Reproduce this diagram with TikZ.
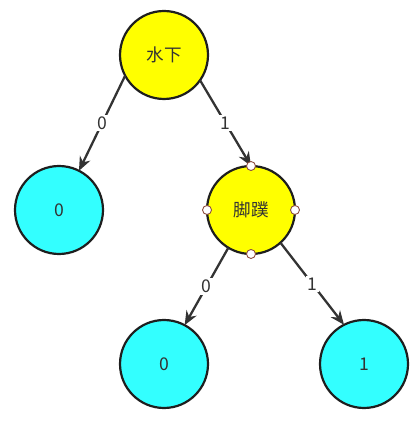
\documentclass[tikz,border=0pt]{standalone}
\usepackage{fontspec}
\setmainfont{Noto Sans CJK SC}
\usetikzlibrary{arrows.meta}
\definecolor{Ink}{HTML}{333333}
\definecolor{Rim}{HTML}{1E1E1E}
\definecolor{Lemon}{HTML}{FFFF00}
\definecolor{Aqua}{HTML}{33FFFF}
\definecolor{Pin}{HTML}{8C4B3C}
\tikzset{
  word/.style={
    circle, draw=Rim, line width=1.25pt, fill=Lemon, text=Ink,
    minimum size=1.76cm, inner sep=0pt, outer sep=0pt,
    font=\fontsize{10pt}{12pt}\selectfont
  },
  leaf/.style={word, fill=Aqua},
  branch/.style={-{Stealth[length=2.8mm,width=2.3mm]}, line width=1.3pt, draw=Ink},
  bit/.style={fill=white, text=Ink, inner sep=1pt,
    font=\fontsize{10pt}{12pt}\selectfont},
  handle/.style={circle, draw=Pin, fill=white, line width=0.5pt,
    minimum size=0.18cm, inner sep=0pt}
}

\begin{document}
\begin{tikzpicture}[x=0.02cm,y=-0.02cm]
  \useasboundingbox (0,0) rectangle (417,421);
  \node[word] (root) at (164,55) {水下};
  \node[leaf] (noleaf) at (59,210) {0};
  \node[word] (fin) at (251,210) {脚蹼};
  \node[leaf] (finno) at (164,364) {0};
  \node[leaf] (finyes) at (364,364) {1};
  \draw[branch] (root.208) -- node[bit] {0} (noleaf.63);
  \draw[branch] (root.-35) -- node[bit] {1} (fin.north);
  \draw[branch] (fin.239) -- node[bit] {0} (finno.62);
  \draw[branch] (fin.-48) -- node[bit] {1} (finyes.117);
  \foreach \a in {north,south,east,west}
    \node[handle] (fin-\a) at (fin.\a) {};
\end{tikzpicture}
\end{document}
